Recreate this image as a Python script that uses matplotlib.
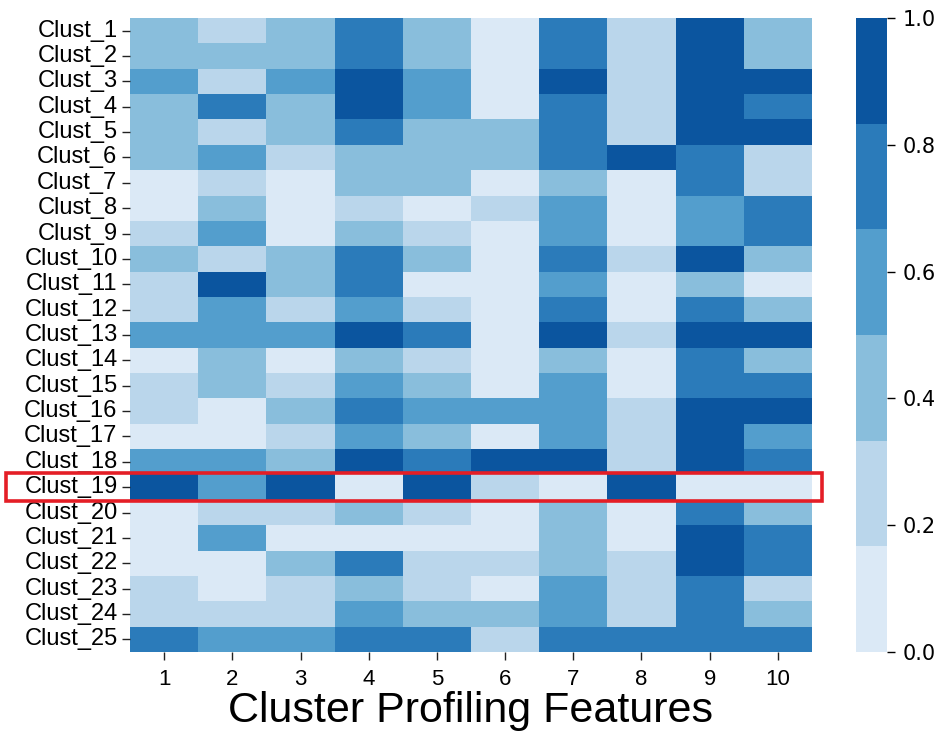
import numpy as np
import matplotlib
matplotlib.use("Agg")
import matplotlib.pyplot as plt
import matplotlib.transforms as mtransforms
from matplotlib.patches import Rectangle
import seaborn as sns

features = [str(i) for i in range(1, 11)]
clusters = [f"Clust_{i}" for i in range(1, 26)]

# Estimated normalized values per cluster (rows) x feature (columns)
clust_1  = [0.42, 0.25, 0.42, 0.75, 0.42, 0.08, 0.75, 0.25, 0.92, 0.42]
clust_2  = [0.42, 0.42, 0.42, 0.75, 0.42, 0.08, 0.75, 0.25, 0.92, 0.42]
clust_3  = [0.58, 0.25, 0.58, 0.92, 0.58, 0.08, 0.92, 0.25, 0.92, 0.92]
clust_4  = [0.42, 0.75, 0.42, 0.92, 0.58, 0.08, 0.75, 0.25, 0.92, 0.75]
clust_5  = [0.42, 0.25, 0.42, 0.75, 0.42, 0.42, 0.75, 0.25, 0.92, 0.92]
clust_6  = [0.42, 0.58, 0.25, 0.42, 0.42, 0.42, 0.75, 0.92, 0.75, 0.25]
clust_7  = [0.08, 0.25, 0.08, 0.42, 0.42, 0.08, 0.42, 0.08, 0.75, 0.25]
clust_8  = [0.08, 0.42, 0.08, 0.25, 0.08, 0.25, 0.58, 0.08, 0.58, 0.75]
clust_9  = [0.25, 0.58, 0.08, 0.42, 0.25, 0.08, 0.58, 0.08, 0.58, 0.75]
clust_10 = [0.42, 0.25, 0.42, 0.75, 0.42, 0.08, 0.75, 0.25, 0.92, 0.42]
clust_11 = [0.25, 0.92, 0.42, 0.75, 0.08, 0.08, 0.58, 0.08, 0.42, 0.08]
clust_12 = [0.25, 0.58, 0.25, 0.58, 0.25, 0.08, 0.75, 0.08, 0.75, 0.42]
clust_13 = [0.58, 0.58, 0.58, 0.92, 0.75, 0.08, 0.92, 0.25, 0.92, 0.92]
clust_14 = [0.08, 0.42, 0.08, 0.42, 0.25, 0.08, 0.42, 0.08, 0.75, 0.42]
clust_15 = [0.25, 0.42, 0.25, 0.58, 0.42, 0.08, 0.58, 0.08, 0.75, 0.75]
clust_16 = [0.25, 0.08, 0.42, 0.75, 0.58, 0.58, 0.58, 0.25, 0.92, 0.92]
clust_17 = [0.08, 0.08, 0.25, 0.58, 0.42, 0.08, 0.58, 0.25, 0.92, 0.58]
clust_18 = [0.58, 0.58, 0.42, 0.92, 0.75, 0.92, 0.92, 0.25, 0.92, 0.75]
clust_19 = [0.92, 0.58, 0.92, 0.08, 0.92, 0.25, 0.08, 0.92, 0.08, 0.08]
clust_20 = [0.08, 0.25, 0.25, 0.42, 0.25, 0.08, 0.42, 0.08, 0.75, 0.42]
clust_21 = [0.08, 0.58, 0.08, 0.08, 0.08, 0.08, 0.42, 0.08, 0.92, 0.75]
clust_22 = [0.08, 0.08, 0.42, 0.75, 0.25, 0.25, 0.42, 0.25, 0.92, 0.75]
clust_23 = [0.25, 0.08, 0.25, 0.42, 0.25, 0.08, 0.58, 0.25, 0.75, 0.25]
clust_24 = [0.25, 0.25, 0.25, 0.58, 0.42, 0.42, 0.58, 0.25, 0.75, 0.42]
clust_25 = [0.75, 0.58, 0.58, 0.75, 0.75, 0.25, 0.75, 0.75, 0.75, 0.75]

values = np.array([clust_1, clust_2, clust_3, clust_4, clust_5, clust_6, clust_7,
                   clust_8, clust_9, clust_10, clust_11, clust_12, clust_13,
                   clust_14, clust_15, clust_16, clust_17, clust_18, clust_19,
                   clust_20, clust_21, clust_22, clust_23, clust_24, clust_25])

highlight = "Clust_19"

fig = plt.figure(figsize=(9.44, 7.40), dpi=100)
W, H = 944, 740
ax = fig.add_axes([130 / W, 1 - 652 / H, 682 / W, 634 / H])
cax = fig.add_axes([856 / W, 1 - 652 / H, 31 / W, 634 / H])

cmap = sns.color_palette("Blues")
sns.heatmap(values, ax=ax, cbar_ax=cax, cmap=cmap, vmin=0, vmax=1,
            xticklabels=features, yticklabels=clusters)

tick_font = ["Liberation Sans", "DejaVu Sans"]
ax.set_yticklabels(clusters, rotation=0, fontsize=17, family=tick_font)
ax.set_xticklabels(features, rotation=0, fontsize=16, family=tick_font)
ax.tick_params(axis="both", length=6, width=1, color="#222222")
ax.tick_params(axis="x", pad=6)
ax.tick_params(axis="y", pad=3)
ax.set_xlabel("Cluster Profiling Features", fontsize=31, family=tick_font, labelpad=1)
ax.set_ylabel("")

cax.tick_params(labelsize=15, length=6, width=1, pad=5)
for lbl in cax.get_yticklabels():
    lbl.set_family("DejaVu Sans")

row = clusters.index(highlight)
trans = mtransforms.blended_transform_factory(fig.transFigure, ax.transData)
rect = Rectangle((6 / W, row - 0.06), (822 - 6) / W, 1.1, transform=trans,
                 fill=False, edgecolor="#e41e26", linewidth=2.6, clip_on=False,
                 zorder=10)
fig.add_artist(rect)

fig.savefig("out.png", dpi=100)
